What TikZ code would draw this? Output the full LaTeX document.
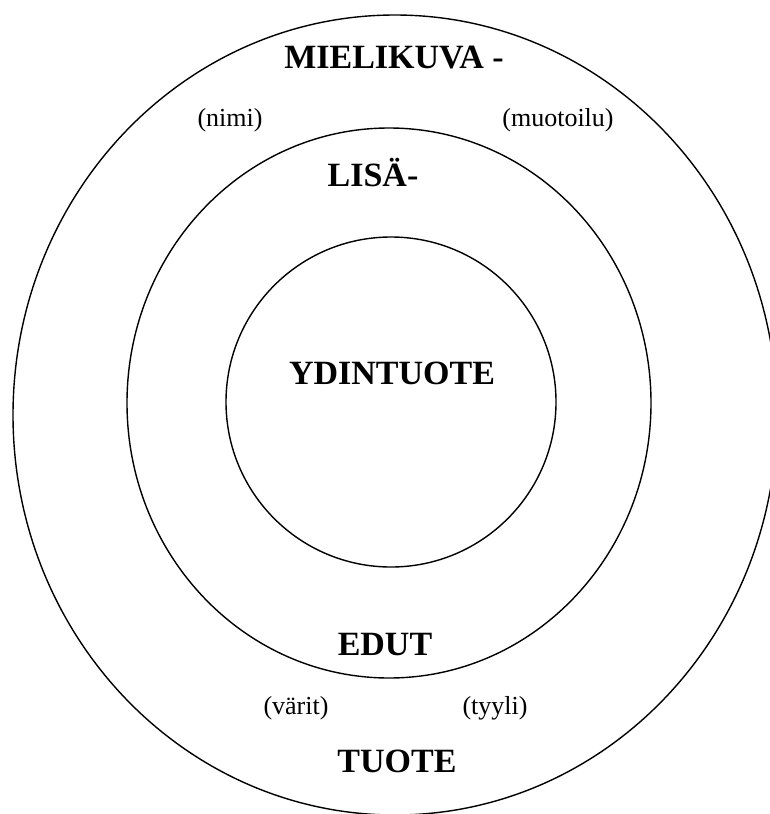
\documentclass[tikz,border=0pt]{standalone}
\usepackage{fontspec}
\setmainfont{Liberation Serif}
\begin{document}
\begin{tikzpicture}[x=1pt,y=-1pt,
  ring/.style={draw=black,line width=1.4pt},
  big/.style={font=\fontsize{34}{40}\selectfont\bfseries,inner sep=0pt,anchor=base},
  small/.style={font=\fontsize{26}{30}\selectfont,inner sep=0pt}]
\useasboundingbox (0,0) rectangle (770,814);
\begin{scope}
\clip (0,0) rectangle (770,814);
\draw[ring] (395,415) ellipse [x radius=382, y radius=400];
\draw[ring] (389,403) ellipse [x radius=262, y radius=275];
\draw[ring] (391,402) circle [radius=165];
\end{scope}
\node[big] (mielikuva) at (394,68) {MIELIKUVA -};
\node[small] (nimi) at (230,120) {(nimi)};
\node[small] (muotoilu) at (558,120) {(muotoilu)};
\node[big] (lisa) at (373,186) {LISÄ-};
\node[big] (ydin) at (392,384) {YDINTUOTE};
\node[big] (edut) at (385,655) {EDUT};
\node[small] (varit) at (296,708) {(värit)};
\node[small] (tyyli) at (495,708) {(tyyli)};
\node[big] (tuote) at (397,772) {TUOTE};
\end{tikzpicture}
\end{document}
